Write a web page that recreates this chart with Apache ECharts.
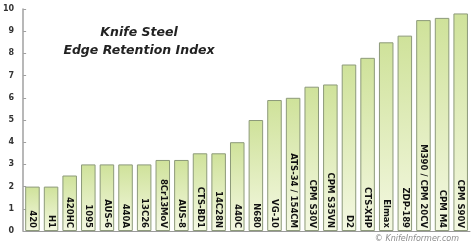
<!DOCTYPE html>
<html>
<head>
<meta charset="utf-8">
<script src="https://cdn.jsdelivr.net/npm/echarts@6/dist/echarts.min.js"></script>
<style>
  html, body { margin: 0; padding: 0; background: #fff; }
  #chart { width: 474px; height: 242px; }
</style>
</head>
<body>
<div id="chart"></div>
<script>
// knife steels, ordered low -> high
var steels = ['420', 'H1', '420HC', '1095', 'AUS-6', '440A', '13C26', '8Cr13MoV', 'AUS-8',
  'CTS-BD1', '14C28N', '440C', 'N680', 'VG-10', 'ATS-34 / 154CM', 'CPM S30V', 'CPM S35VN',
  'D2', 'CTS-XHP', 'Elmax', 'ZDP-189', 'M390 / CPM 20CV', 'CPM M4', 'CPM S90V']
var retention = [2, 2, 2.5, 3, 3, 3, 3, 3.2, 3.2,
  3.5, 3.5, 4, 5, 5.9, 6, 6.5, 6.6,
  7.5, 7.8, 8.5, 8.8, 9.5, 9.6, 9.8]
var yTicks = [0, 1, 2, 3, 4, 5, 6, 7, 8, 9, 10]

var chart = echarts.init(document.getElementById('chart'))

chart.setOption({
  animation: false,
  title: [
    {
      text: 'Knife Steel\nEdge Retention Index',
      left: 134,
      top: 19,
      textAlign: 'center',
      textStyle: {
        fontFamily: 'DejaVu Sans',
        fontSize: 12.5,
        fontWeight: 'bold',
        fontStyle: 'italic',
        color: '#222',
        lineHeight: 18
      }
    },
    {
      text: '© KnifeInformer.com',
      right: 10,
      top: 230,
      textStyle: {
        fontFamily: 'DejaVu Sans',
        fontSize: 8,
        fontStyle: 'italic',
        fontWeight: 'normal',
        color: '#8a8a8a'
      }
    }
  ],
  grid: {
    left: 21,
    right: 4,
    top: 9,
    bottom: 11,
    containLabel: false
  },
  xAxis: {
    type: 'category',
    data: steels,
    axisLine: { lineStyle: { color: '#9a9a9a', width: 1 } },
    axisTick: { show: false },
    axisLabel: { show: false }
  },
  yAxis: {
    type: 'value',
    min: 0,
    max: 10,
    interval: 1,
    axisLine: { show: true, lineStyle: { color: '#a0a0a0', width: 1.5 } },
    axisTick: { show: true, inside: true, length: 3, lineStyle: { color: '#a0a0a0' } },
    splitLine: { show: false },
    axisLabel: {
      margin: 9,
      fontFamily: 'DejaVu Sans',
      fontSize: 8,
      fontWeight: 'bold',
      color: '#333',
      formatter: function (v) {
        return yTicks.indexOf(v) >= 0 ? String(v) : ''
      }
    }
  },
  series: [
    {
      type: 'bar',
      data: retention,
      barCategoryGap: '22%',
      itemStyle: {
        color: new echarts.graphic.LinearGradient(0, 0, 0, 1, [
          { offset: 0, color: '#cfe29a' },
          { offset: 1, color: '#f4f8e2' }
        ]),
        borderColor: '#8d9a7a',
        borderWidth: 1
      },
      label: {
        show: true,
        position: 'insideBottom',
        rotate: -90,
        align: 'right',
        verticalAlign: 'middle',
        distance: 3,
        fontFamily: 'DejaVu Sans',
        fontSize: 8.5,
        fontWeight: 'bold',
        color: '#111',
        formatter: function (p) { return p.name }
      }
    }
  ]
})
</script>
</body>
</html>
